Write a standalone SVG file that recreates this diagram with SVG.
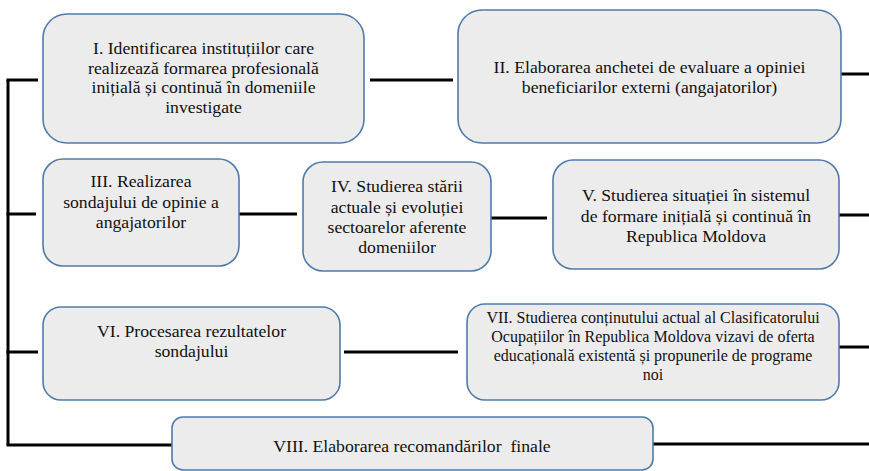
<svg xmlns="http://www.w3.org/2000/svg" width="869" height="471" viewBox="0 0 869 471">
<style>
.box{fill:#ececec;stroke:#4f7bab;stroke-width:1.6}
text{font-family:'Liberation Serif','Times New Roman','DejaVu Serif',serif;font-size:17.7px;fill:#111;text-anchor:middle}
text.s{font-size:16px}
.c{stroke:#000;stroke-width:3;fill:none}
</style>
<rect width="869" height="471" fill="#fff"/>
<g id="connectors">
<path class="c" d="M8 80V445"/>
<path class="c" d="M6.5 80H38"/>
<path class="c" d="M6.5 214H36"/>
<path class="c" d="M6.5 352H38"/>
<path class="c" d="M6.5 445H172"/>
<path class="c" d="M370 80H453"/>
<path class="c" d="M841 74H869"/>
<path class="c" d="M239 214H297"/>
<path class="c" d="M491 218H547"/>
<path class="c" d="M839 215H869"/>
<path class="c" d="M344 352H458"/>
<path class="c" d="M839 347H869"/>
<path class="c" d="M653 444H869"/>
</g>
<g id="n1">
<rect class="box" x="43" y="14" width="321" height="129" rx="24"/>
<text><tspan x="203.5" y="54">I. Identificarea instituțiilor care</tspan><tspan x="203.5" y="73.5">realizează formarea profesională</tspan><tspan x="203.5" y="93">inițială și continuă în domeniile</tspan><tspan x="203.5" y="112.5">investigate</tspan></text>
</g>
<g id="n2">
<rect class="box" x="458" y="10" width="383" height="133" rx="24"/>
<text><tspan x="649.5" y="73">II. Elaborarea anchetei de evaluare a opiniei</tspan><tspan x="649.5" y="93">beneficiarilor externi (angajatorilor)</tspan></text>
</g>
<g id="n3">
<rect class="box" x="43" y="159" width="196" height="107" rx="20"/>
<text><tspan x="141" y="187">III. Realizarea</tspan><tspan x="141" y="207.5">sondajului de opinie a</tspan><tspan x="141" y="228">angajatorilor</tspan></text>
</g>
<g id="n4">
<rect class="box" x="303" y="162" width="188" height="109" rx="20"/>
<text><tspan x="397" y="192">IV. Studierea stării</tspan><tspan x="397" y="212.5">actuale și evoluției</tspan><tspan x="397" y="233">sectoarelor aferente</tspan><tspan x="397" y="253">domeniilor</tspan></text>
</g>
<g id="n5">
<rect class="box" x="553" y="160" width="286" height="109" rx="20"/>
<text><tspan x="696" y="201">V. Studierea situației în sistemul</tspan><tspan x="696" y="221.5">de formare inițială și continuă în</tspan><tspan x="696" y="242">Republica Moldova</tspan></text>
</g>
<g id="n6">
<rect class="box" x="43" y="307" width="297" height="93" rx="18"/>
<text><tspan x="191.5" y="337">VI. Procesarea rezultatelor</tspan><tspan x="191.5" y="357">sondajului</tspan></text>
</g>
<g id="n7">
<rect class="box" x="467" y="304" width="372" height="96" rx="18"/>
<text class="s"><tspan x="653" y="323">VII. Studierea conținutului actual al Clasificatorului</tspan><tspan x="653" y="342">Ocupațiilor în Republica Moldova vizavi de oferta</tspan><tspan x="653" y="361">educațională existentă și propunerile de programe</tspan><tspan x="653" y="380">noi</tspan></text>
</g>
<g id="n8">
<rect class="box" x="172" y="417" width="481" height="53" rx="11"/>
<text x="412" y="452" style="white-space:pre">VIII. Elaborarea recomandărilor  finale</text>
</g>
</svg>
